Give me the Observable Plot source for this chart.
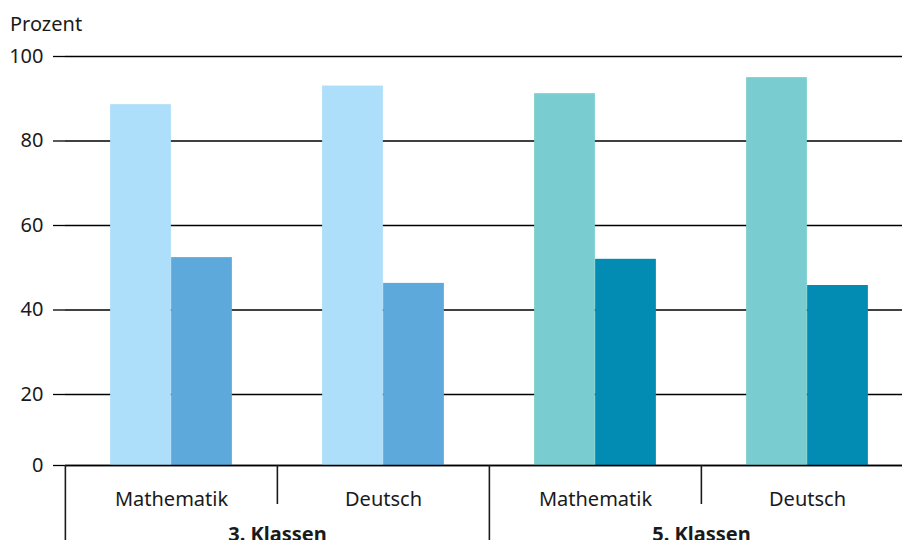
<!DOCTYPE html>
<html>
<head>
<meta charset="utf-8">
<script src="https://cdn.jsdelivr.net/npm/d3@7"></script>
<script src="https://cdn.jsdelivr.net/npm/@observablehq/plot@0.6"></script>
<style>
  html, body { margin: 0; padding: 0; background: #fff; overflow: hidden; }
  #wrap { position: relative; width: 902px; height: 540px; overflow: hidden; background: #fff; }
  #unit { position: absolute; left: 10px; top: 14px; font-family: "Noto Sans", sans-serif; font-size: 20px; line-height: 20px; color: #1a1a1a; }
  #chart { position: absolute; left: 0; top: 0; }
</style>
</head>
<body>
<div id="wrap">
  <div id="chart"></div>
  <div id="unit">Prozent</div>
</div>
<script>
// ---- data ----
const klassen = ["3. Klassen", "5. Klassen"];
const faecher = ["Mathematik", "Deutsch"];
// values in order: 3. Kl Mathe, 3. Kl Deutsch, 5. Kl Mathe, 5. Kl Deutsch
const serieA = [88.6, 93.0, 91.2, 95.0];
const serieB = [52.4, 46.3, 52.0, 45.8];
const farbenA = ["#addffa", "#79cdd0"];
const farbenB = ["#5ea9dc", "#028cb3"];
const yTicks = [0, 20, 40, 60, 80, 100];

// ---- build table ----
const rows = [];
klassen.forEach((k, ki) => {
  faecher.forEach((f, fi) => {
    const i = ki * faecher.length + fi;
    rows.push({klasse: k, fach: f, serie: "A", wert: serieA[i], farbe: farbenA[ki]});
    rows.push({klasse: k, fach: f, serie: "B", wert: serieB[i], farbe: farbenB[ki]});
  });
});
const seps = [];
klassen.forEach(k => faecher.forEach((f, fi) => seps.push({klasse: k, fach: f, lang: fi === 0})));

const W = 913, H = 560, mL = 64, mT = 56, mB = 95;
const bw = (W - mL) / (klassen.length * faecher.length);
const barW = 61;
const outer = (bw - 2 * barW) / 2;

const chart = Plot.plot({
  width: W,
  height: H,
  marginLeft: mL,
  marginRight: 0,
  marginTop: mT,
  marginBottom: mB,
  style: {fontFamily: "Noto Sans, sans-serif", fontSize: "20px", color: "#1a1a1a", background: "#fff", maxWidth: "none", overflow: "visible"},
  fx: {domain: klassen, padding: 0, label: null},
  x: {domain: faecher, padding: 0, label: null},
  y: {type: "linear", domain: [0, 20, 100], range: [H - mB, 394, mT], label: null},
  marks: [
    Plot.gridY(yTicks, {stroke: "#000", strokeOpacity: 1, strokeWidth: 1.3}),
    Plot.axisY(yTicks, {tickSize: 12, tickPadding: 10, stroke: "#000", strokeWidth: 1.3, fill: "#1a1a1a", label: null}),
    Plot.barY(rows.filter(d => d.serie === "A"), {fx: "klasse", x: "fach", y: "wert", fill: "farbe", insetLeft: outer, insetRight: bw - outer - barW}),
    Plot.barY(rows.filter(d => d.serie === "B"), {fx: "klasse", x: "fach", y: "wert", fill: "farbe", insetLeft: outer + barW, insetRight: outer}),
    Plot.ruleY([0], {stroke: "#000", strokeWidth: 1.5}),
    Plot.ruleX(seps.filter(d => d.lang), {fx: "klasse", x: "fach", y1: 0, y2: 0, dx: -bw / 2, insetBottom: -120, stroke: "#1a1a1a", strokeWidth: 1.6}),
    Plot.ruleX(seps.filter(d => !d.lang), {fx: "klasse", x: "fach", y1: 0, y2: 0, dx: -bw / 2, insetBottom: -39, stroke: "#1a1a1a", strokeWidth: 1.6}),
    Plot.axisX({anchor: "bottom", tickSize: 0, tickPadding: 26, fill: "#1a1a1a", label: null}),
    Plot.axisFx({anchor: "bottom", tickSize: 0, tickPadding: 61, fill: "#1a1a1a", fontWeight: "bold", label: null})
  ]
});
document.getElementById("chart").appendChild(chart);
</script>
</body>
</html>
